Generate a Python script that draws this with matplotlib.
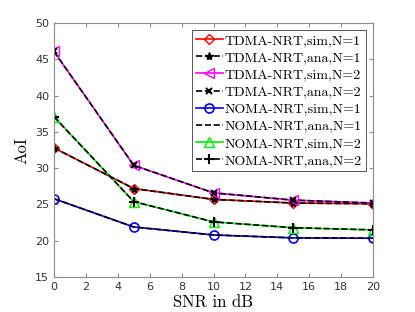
import matplotlib
matplotlib.use('Agg')
from matplotlib import pyplot as plt

snr = [0, 5, 10, 15, 20]
tdma_n1 = [32.8, 27.2, 25.7, 25.2, 25.1]
tdma_n2 = [46.1, 30.4, 26.6, 25.6, 25.2]
noma_n1 = [25.8, 21.9, 20.8, 20.4, 20.35]
noma_n2 = [37.1, 25.4, 22.6, 21.8, 21.5]

fig = plt.figure(figsize=(4.15, 3.12), dpi=100)
ax = fig.add_axes([0.130, 0.112, 0.769, 0.814])

lw = 1.2
ax.plot(snr, tdma_n1, '-', color='red', marker='D', mfc='none', ms=5, lw=lw, label='TDMA-NRT,sim,N=1')
ax.plot(snr, tdma_n1, '--', color='black', marker='*', ms=6, lw=lw, label='TDMA-NRT,ana,N=1')
ax.plot(snr, tdma_n2, '-', color='magenta', marker='<', mfc='none', ms=6.5, lw=lw, label='TDMA-NRT,sim,N=2')
ax.plot(snr, tdma_n2, '--', color='black', marker='x', ms=5, mew=1.5, lw=lw, label='TDMA-NRT,ana,N=2')
ax.plot(snr, noma_n1, '-', color='blue', marker='o', mfc='none', ms=6.5, mew=1.2, lw=lw, label='NOMA-NRT,sim,N=1')
ax.plot(snr, noma_n1, '--', color='black', lw=lw, label='NOMA-NRT,ana,N=1')
ax.plot(snr, noma_n2, '-', color='#00ee00', marker='^', mfc='none', ms=6.5, lw=lw, label='NOMA-NRT,sim,N=2')
ax.plot(snr, noma_n2, '--', color='black', marker='+', ms=7, mew=1.5, lw=lw, label='NOMA-NRT,ana,N=2')

ax.set_xlim(0, 20)
ax.set_ylim(15, 50)
ax.set_xticks(range(0, 21, 2))
ax.set_yticks(range(15, 51, 5))
ax.tick_params(direction='in', top=True, right=True, labelsize=8, color='#8c8c8c',
               labelcolor='#333333', length=3, width=0.8)
for s in ax.spines.values():
    s.set_color('#8c8c8c')
    s.set_linewidth(0.8)

ax.set_xlabel('SNR in dB', family='cmr10', fontsize=12, labelpad=2)
ax.set_ylabel('AoI', family='cmr10', fontsize=12, labelpad=4)

leg = ax.legend(loc='upper right', prop={'family': 'cmr10', 'size': 10}, fancybox=False,
                edgecolor='#555555', framealpha=1, handlelength=1.9, handletextpad=0.15,
                labelspacing=0.32, borderpad=0.3, borderaxespad=0.5)
leg.get_frame().set_linewidth(0.7)

fig.savefig('out.png', dpi=100)
